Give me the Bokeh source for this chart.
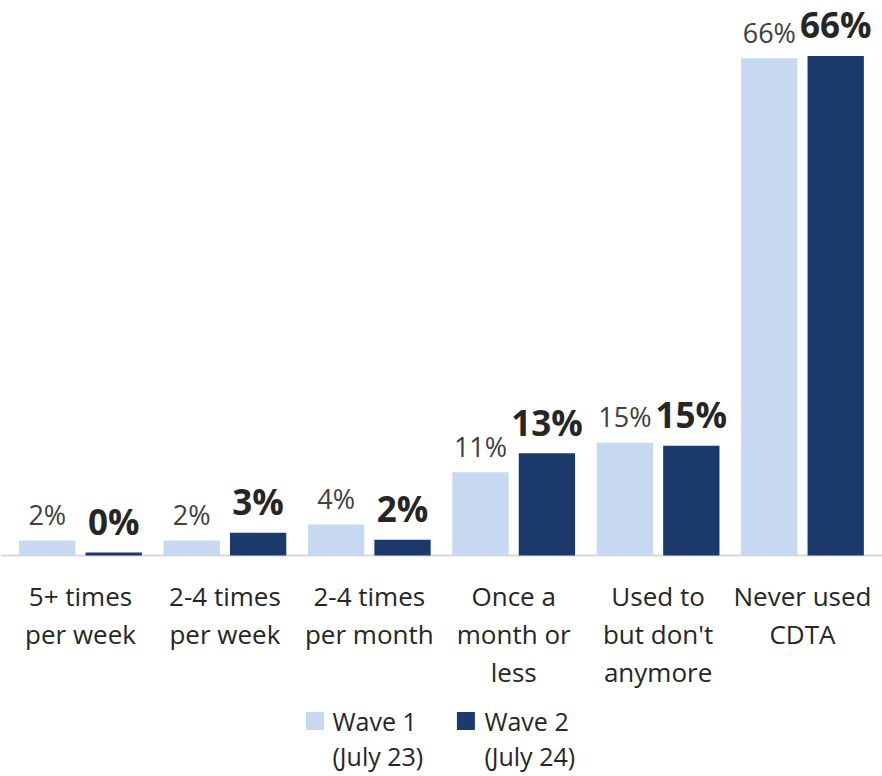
from bokeh.plotting import figure
from bokeh.models import ColumnDataSource, Range1d, Span
from bokeh.transform import dodge
from bokeh.core.properties import value
from bokeh.embed import file_html
from bokeh.resources import INLINE

categories = ["5+ times\nper week", "2-4 times\nper week", "2-4 times\nper month",
              "Once a\nmonth or\nless", "Used to\nbut don't\nanymore", "Never used\nCDTA"]
wave1 = [2.0, 2.0, 4.1, 11.0, 14.9, 65.7]
wave2 = [0.4, 3.0, 2.1, 13.5, 14.5, 66.0]
wave1_labels = ["2%", "2%", "4%", "11%", "15%", "66%"]
wave2_labels = ["0%", "3%", "2%", "13%", "15%", "66%"]
series_names = ["Wave 1\n(July 23)", "Wave 2\n(July 24)"]

C1 = "#C6D9F0"
C2 = "#1B3A6B"
FONT = "Open Sans"

src = ColumnDataSource(dict(cat=categories, w1=wave1, w2=wave2,
                            l1=wave1_labels, l2=wave2_labels))

p = figure(width=882, height=776, x_range=categories, y_range=Range1d(-29.19, 73.32),
           output_backend="svg", toolbar_location=None,
           x_axis_location=None, y_axis_location=None,
           min_border=0, outline_line_color=None)
p.x_range.range_padding = 0.054
p.x_range.range_padding_units = "absolute"
p.grid.visible = False
p.background_fill_color = "white"
p.border_fill_color = "white"

base = Span(location=0, dimension="width", line_color="#D9D9D9", line_width=2, level="underlay")
p.add_layout(base)

p.vbar(x=dodge("cat", -0.23, range=p.x_range), top="w1", width=0.39, source=src,
       fill_color=C1, line_color=None)
p.vbar(x=dodge("cat", 0.23, range=p.x_range), top="w2", width=0.39, source=src,
       fill_color=C2, line_color=None)

p.text(x=dodge("cat", -0.23, range=p.x_range), y="w1", text="l1", source=src,
       text_font=value(FONT), text_font_size="27px", text_color="#404040",
       text_align="center", text_baseline="alphabetic", y_offset=-26)
p.text(x=dodge("cat", 0.23, range=p.x_range), y="w2", text="l2", source=src,
       text_font=value(FONT), text_font_size="35px", text_font_style="bold",
       text_color="#262626", text_align="center", text_baseline="alphabetic", y_offset=-31)

# category labels below baseline
p.text(x="cat", y=-3.0, text="cat", source=src, text_font=value(FONT),
       text_font_size="26px", text_color="#262626", text_align="center",
       text_baseline="top", text_line_height=1.05)

# legend
leg = ColumnDataSource(dict(sx=[2.124, 3.169], tx=[2.245, 3.297], name=series_names,
                            color=[C1, C2]))
p.scatter(x="sx", y=-21.86, marker="square", size=18, fill_color="color",
          line_color=None, source=leg)
p.text(x="tx", y=-19.55, text="name", source=leg, text_font=value(FONT),
       text_font_size="25px", text_color="#262626", text_align="left",
       text_baseline="top", text_line_height=1.05)

open("out.html", "w").write(file_html(p, INLINE))
